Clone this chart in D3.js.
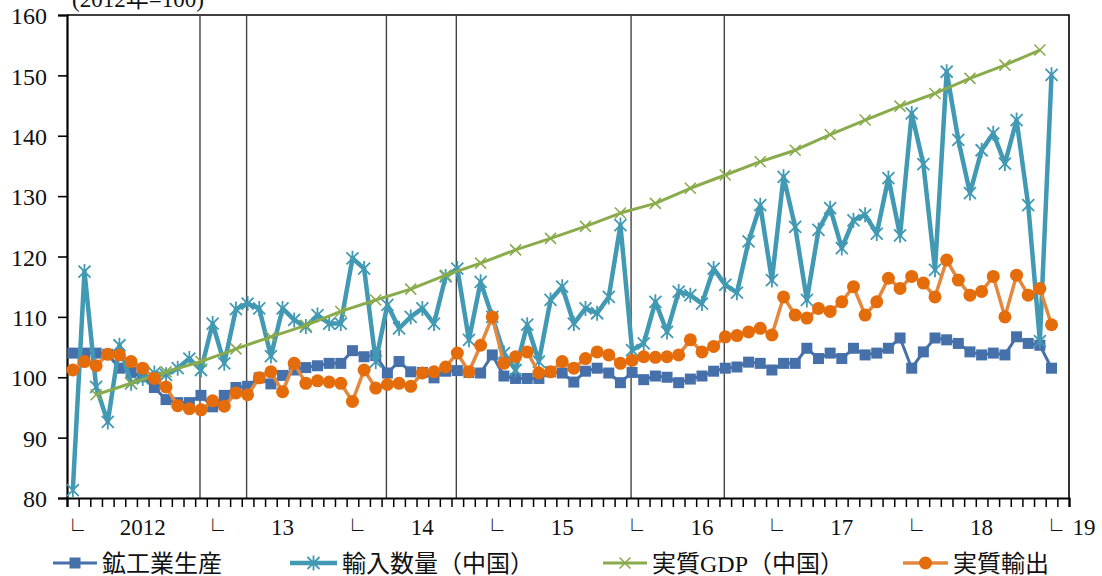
<!DOCTYPE html>
<html><head><meta charset="utf-8">
<script src="https://cdn.jsdelivr.net/npm/d3@7"></script>
<style>
body{margin:0;background:#fff;}
svg text{fill:#111;}
</style></head><body>
<svg id="chart" width="1102" height="576" font-family="Liberation Serif, Noto Sans CJK JP, serif"></svg>
<script>
// ---------- data ----------
// monthly categories Jan 2012 .. Feb 2019 (last band empty)
const months = d3.range(86).map(i => `${2012 + Math.floor(i / 12)}-${String(i % 12 + 1).padStart(2, "0")}`);
// 鉱工業生産 (monthly, Jan 2012 - Jan 2019)
const mining = [104.0,104.0,104.0,103.8,101.5,100.8,100.1,98.3,96.3,95.8,
  95.8,97.0,95.1,97.0,98.3,98.5,99.9,98.9,100.3,101.2,
  101.6,101.9,102.3,102.3,104.4,103.4,103.6,100.7,102.6,100.9,
  100.8,99.9,101.0,101.1,100.8,100.7,103.7,100.2,99.8,99.8,
  99.8,100.9,100.7,99.2,101.0,101.5,100.7,99.1,100.8,99.6,
  100.2,100.0,99.1,99.7,100.2,101.0,101.5,101.7,102.5,102.3,
  101.2,102.3,102.3,104.8,103.1,104.0,103.1,104.8,103.7,104.0,
  104.8,106.5,101.5,104.2,106.5,106.2,105.6,104.2,103.7,104.0,
  103.7,106.7,105.6,105.3,101.5];
// 輸入数量（中国）
const chinaImports = [81.3,117.5,98.4,92.6,105.3,99.0,99.8,100.7,100.4,101.5,
  103.1,101.2,108.9,102.3,111.3,112.2,111.4,103.5,111.4,109.5,
  108.4,110.3,108.9,108.9,119.7,118.0,102.6,112.0,108.1,110.0,
  111.4,108.9,116.7,118.0,106.2,115.8,110.0,104.0,101.2,108.7,
  102.6,112.8,115.0,108.9,111.4,110.6,113.3,125.2,104.5,105.6,
  112.5,107.5,114.2,113.6,112.2,118.0,115.3,114.0,122.5,128.5,
  116.1,133.2,124.9,112.8,124.4,128.0,121.4,126.0,126.9,123.8,
  133.0,123.5,143.7,135.3,117.8,150.6,139.3,130.5,137.6,140.4,
  135.4,142.6,128.5,106.0,150.1];
// 実質GDP（中国） quarterly, Mar 2012 .. Dec 2018
const gdpMonths = d3.range(28).map(k => months[2 + 3 * k]);
const chinaGDP = [97.1,99.0,100.9,102.6,104.7,106.7,108.6,110.9,112.8,114.6,
  116.9,118.9,121.1,123.0,125.0,127.2,128.8,131.3,133.5,135.7,
  137.6,140.2,142.6,144.9,147.0,149.5,151.7,154.2];
// 実質輸出
const realExports = [101.2,102.6,101.9,103.8,103.7,102.6,101.5,99.8,98.4,95.3,
  94.8,94.6,96.1,95.2,97.4,97.1,99.9,100.9,97.6,102.3,
  99.0,99.4,99.2,99.0,96.0,101.2,98.2,98.8,99.0,98.5,
  100.7,100.9,101.7,104.0,100.9,105.3,110.0,102.3,103.4,104.2,
  100.7,100.9,102.6,101.5,103.1,104.2,103.7,102.3,102.8,103.4,
  103.3,103.4,103.7,106.2,104.2,105.1,106.7,106.9,107.5,108.1,
  107.0,113.3,110.3,109.8,111.4,110.9,112.5,115.0,110.3,112.5,
  116.4,114.7,116.7,115.6,113.3,119.4,116.1,113.6,114.2,116.7,
  110.0,116.9,113.6,114.7,108.7];
const yTicks = [80,90,100,110,120,130,140,150,160];
const yearLabels = ["2012","13","14","15","16","17","18"];
const yearStartMonths = ["2012-01","2013-01","2014-01","2015-01","2016-01","2017-01","2018-01","2019-01"];
const yearLabelMonths = ["2012-07","2013-07","2014-07","2015-07","2016-07","2017-07","2018-07"];
const lastYearLabel = "19";
const eventMonths = ["2012-12","2013-04","2014-04","2014-10","2016-01","2016-09"];
const seriesNames = ["鉱工業生産","輸入数量（中国）","実質GDP（中国）","実質輸出"];
const unitLabel = "(2012年=100)";

// ---------- layout ----------
const plot = {left: 67, right: 1069, top: 15, bottom: 498};
const col = {mining: "#4670aa", imports: "#4199b3", gdp: "#8aab4c", exportsLine: "#e3883f", exportsDot: "#e46c0a"};

const svg = d3.select("#chart");
const x = d3.scaleBand().domain(months).range([plot.left, plot.right]).paddingInner(0).paddingOuter(0);
const cx = m => x(m) + x.bandwidth() / 2;
const y = d3.scaleLinear().domain([80, 160]).range([plot.bottom, plot.top]);

// plot frame (top/right)
svg.append("path")
  .attr("d", `M${plot.left},${plot.top}H${plot.right}V${plot.bottom}`)
  .attr("fill", "none").attr("stroke", "#000").attr("stroke-width", 1.6);

// event lines
svg.append("g").selectAll("line").data(eventMonths).join("line")
  .attr("x1", d => cx(d) - 1).attr("x2", d => cx(d) - 1)
  .attr("y1", plot.top).attr("y2", plot.bottom)
  .attr("stroke", "#444").attr("stroke-width", 1.4);

// y axis
const yAxis = svg.append("g").attr("transform", `translate(${plot.left},0)`)
  .call(d3.axisLeft(y).tickValues(yTicks).tickSize(9).tickPadding(11).tickFormat(d3.format("d")));
yAxis.attr("font-family", null).attr("font-size", null);
yAxis.select(".domain").attr("stroke", "#000").attr("stroke-width", 2.2);
yAxis.selectAll(".tick line").attr("stroke", "#000").attr("stroke-width", 1.6);
yAxis.selectAll(".tick text").style("font-size", "24px").style("font-family", "Liberation Serif").attr("fill", "#111").attr("dy", "0.36em");

// x axis ticks at band boundaries
const xi = d3.scaleLinear().domain([0, months.length]).range([plot.left, plot.right]);
const xAxis = svg.append("g").attr("transform", `translate(0,${plot.bottom})`)
  .call(d3.axisBottom(xi).tickValues(d3.range(months.length + 1)).tickSize(9).tickFormat(""));
xAxis.select(".domain").attr("stroke", "#000").attr("stroke-width", 2.2);
xAxis.selectAll(".tick line").attr("stroke", "#000").attr("stroke-width", 1.5);

// year start marks
svg.append("g").selectAll("text").data(yearStartMonths).join("text")
  .attr("x", d => cx(d) - 11).attr("y", 538)
  .style("font-family", "'Noto Sans CJK JP'").style("font-size", "22px")
  .text("└");
svg.append("g").selectAll("text").data(yearLabels).join("text")
  .attr("x", (d, i) => cx(yearLabelMonths[i])).attr("y", 535)
  .attr("text-anchor", "middle").style("font-size", "23px")
  .text(d => d);
svg.append("text").attr("x", cx(yearStartMonths[yearStartMonths.length - 1]) + 21).attr("y", 535)
  .style("font-size", "23px").text(lastYearLabel);

// unit label (partly cut at top, as in the original)
svg.append("text").attr("x", 72).attr("y", 7).style("font-size", "23px").text(unitLabel);

// ---------- series ----------
const line = d3.line().x(d => cx(d.m)).y(d => y(d.v));
const pts = arr => arr.map((v, i) => ({m: months[i], v}));
const gdpPts = chinaGDP.map((v, i) => ({m: gdpMonths[i], v}));

const starPath = "M-6,-6L6,6M-6,6L6,-6M0,-7.5V7.5";
const xPath = "M-5.5,-5.5L5.5,5.5M-5.5,5.5L5.5,-5.5";

// 鉱工業生産
svg.append("path").datum(pts(mining)).attr("d", line).attr("fill", "none")
  .attr("stroke", col.mining).attr("stroke-width", 3).attr("stroke-linejoin", "round");
svg.append("g").selectAll("rect").data(pts(mining)).join("rect")
  .attr("x", d => cx(d.m) - 5.5).attr("y", d => y(d.v) - 5.5).attr("width", 11).attr("height", 11)
  .attr("fill", col.mining);

// 輸入数量（中国）
svg.append("path").datum(pts(chinaImports)).attr("d", line).attr("fill", "none")
  .attr("stroke", col.imports).attr("stroke-width", 4.5).attr("stroke-linejoin", "round");
svg.append("g").selectAll("path").data(pts(chinaImports)).join("path")
  .attr("transform", d => `translate(${cx(d.m)},${y(d.v)})`).attr("d", starPath)
  .attr("stroke", col.imports).attr("stroke-width", 1.8).attr("fill", "none");

// 実質GDP（中国）
svg.append("path").datum(gdpPts).attr("d", line).attr("fill", "none")
  .attr("stroke", col.gdp).attr("stroke-width", 3).attr("stroke-linejoin", "round");
svg.append("g").selectAll("path").data(gdpPts).join("path")
  .attr("transform", d => `translate(${cx(d.m)},${y(d.v)})`).attr("d", xPath)
  .attr("stroke", col.gdp).attr("stroke-width", 1.6).attr("fill", "none");

// 実質輸出
svg.append("path").datum(pts(realExports)).attr("d", line).attr("fill", "none")
  .attr("stroke", col.exportsLine).attr("stroke-width", 3.5).attr("stroke-linejoin", "round");
svg.append("g").selectAll("circle").data(pts(realExports)).join("circle")
  .attr("cx", d => cx(d.m)).attr("cy", d => y(d.v)).attr("r", 6.5)
  .attr("fill", col.exportsDot);

// ---------- legend ----------
const legendY = 563;
const legendX = [53, 290, 603, 903];
const legendLen = [44, 47, 44, 45];
const lg = svg.append("g");
seriesNames.forEach((name, i) => {
  const x0 = legendX[i], x1 = x0 + legendLen[i], mx = (x0 + x1) / 2;
  const c = [col.mining, col.imports, col.gdp, col.exportsLine][i];
  const sw = [3, 4.5, 3, 3.5][i];
  lg.append("line").attr("x1", x0).attr("x2", x1).attr("y1", legendY).attr("y2", legendY)
    .attr("stroke", c).attr("stroke-width", sw);
  if (i === 0) lg.append("rect").attr("x", mx - 5.5).attr("y", legendY - 5.5).attr("width", 11).attr("height", 11).attr("fill", c);
  if (i === 1) lg.append("path").attr("transform", `translate(${mx},${legendY})`).attr("d", starPath).attr("stroke", c).attr("stroke-width", 1.8);
  if (i === 2) lg.append("path").attr("transform", `translate(${mx},${legendY})`).attr("d", xPath).attr("stroke", c).attr("stroke-width", 1.6);
  if (i === 3) lg.append("circle").attr("cx", mx).attr("cy", legendY).attr("r", 6.5).attr("fill", col.exportsDot);
  lg.append("text").attr("x", x1 + 5).attr("y", 572).style("font-size", "24px").text(name);
});
</script>
</body></html>
